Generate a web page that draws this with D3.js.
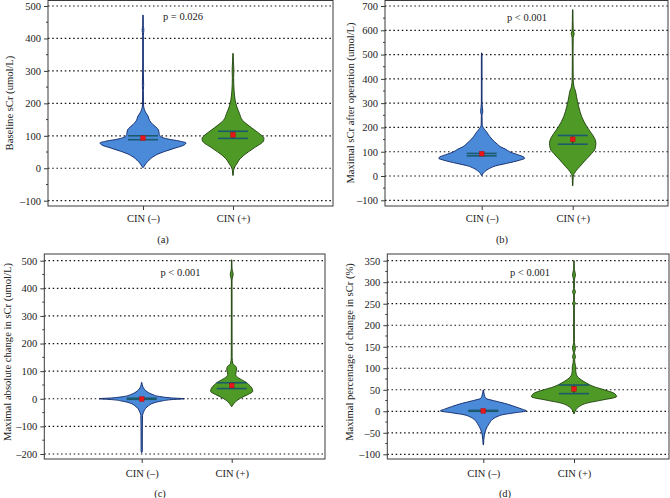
<!DOCTYPE html>
<html>
<head>
<meta charset="utf-8">
<script src="https://cdn.jsdelivr.net/npm/d3@7"></script>
<style>
  html, body { margin: 0; padding: 0; background: #fff; }
  svg { display: block; }
  text { font-family: "Liberation Serif", "DejaVu Serif", serif; fill: #222; }
</style>
</head>
<body>
<svg id="chart" width="670" height="498"></svg>
<script>
// ---------------- DATA ----------------
const categories = ["CIN (–)", "CIN (+)"];
const panelIds = ["(a)", "(b)", "(c)", "(d)"];
const yTitles = [
  "Baseline sCr (umol/L)",
  "Maximal sCr after operation (umol/L)",
  "Maximal absolute change in sCr (umol/L)",
  "Maximal percentage of change in sCr (%)"
];
const pLabels = ["p = 0.026", "p < 0.001", "p < 0.001", "p < 0.001"];

const yTicksA = [-100, 0, 100, 200, 300, 400, 500];
const yTicksB = [-100, 0, 100, 200, 300, 400, 500, 600, 700];
const yTicksC = [-200, -100, 0, 100, 200, 300, 400, 500];
const yTicksD = [-100, -50, 0, 50, 100, 150, 200, 250, 300, 350];

// violin profiles: [value, relative density (max = 100)]
const violinA_neg = [[472,0.3],[440,0.8],[426,2],[410,0.8],[300,0.8],[255,1.5],[240,0.8],[195,1.2],[182,3],[170,7],[160,12],[148,15],[135,23],[127,30],[118,36],[112,37],[104,38],[97,42],[90,58],[84,84],[78,100],[70,93],[62,74],[55,58],[45,37],[35,23],[25,14],[15,7],[5,2],[2,0]];
const violinA_pos = [[354,0.3],[330,1],[300,2],[280,1.5],[241,2.5],[210,5],[189,9],[169,15],[148,22],[133,35],[117,51],[105,63],[97,70],[92,72],[84,71],[76,65],[66,53],[56,42],[45,30],[35,21],[25,14],[14,9],[4,4],[-8,1.2],[-22,0]];
const violinB_neg = [[507,0.3],[480,0.8],[300,0.8],[264,2.5],[250,0.8],[210,1.2],[196,5],[180,12],[162,19],[141,30],[130,37],[120,44],[110,56],[100,65],[90,80],[79,97],[73,100],[65,88],[52,58],[42,33],[32,19],[18,7],[2,0]];
const violinB_pos = [[685,0.3],[640,0.8],[600,1.2],[586,3.5],[570,1.2],[500,0.8],[400,1.2],[367,3],[353,6],[326,9],[285,14],[244,21],[203,33],[175,44],[155,51],[134,54],[120,53],[107,51],[93,44],[79,37],[66,30],[52,23],[38,16],[25,9.3],[11,4],[0,1.2],[-20,0.8],[-40,0]];
const violinC_neg = [[59,0.3],[45,2.5],[35,6],[25,13],[15,26],[8,42],[3,70],[0,99],[-3,70],[-8,47],[-15,28],[-25,16],[-35,9],[-50,4],[-60,2],[-100,1.6],[-190,1.4],[-195,0]];
const violinC_pos = [[503,0.3],[470,0.8],[451,3.5],[430,0.8],[300,0.8],[150,1],[126,3],[118,9.3],[108,11.5],[99,10.5],[88,9.3],[81,11.5],[69,23],[60,33],[51,40],[39,47],[27,49],[15,37],[2.5,21],[-10,9.3],[-22,3],[-28,0]];
const violinD_neg = [[49.5,0.3],[40,2],[30,6],[25,23],[18.6,49],[10.7,74],[5,90],[1,100],[-4,70],[-8,45],[-12.5,32],[-20,20],[-28,14],[-36,9],[-43,6],[-55,2.5],[-78,0]];
const violinD_pos = [[350,0.3],[330,0.8],[317,3.5],[305,0.8],[285,0.8],[278,3.5],[270,0.8],[256,0.8],[251,3.5],[245,0.8],[160,0.8],[146,3.5],[136,1],[127,3.5],[120,1.5],[110,2.5],[104,4],[95,4],[88,5],[82,7],[73,17],[65,30],[57,47],[50,70],[42,93],[34,99],[26,65],[19,30],[11,12],[3,4],[-6,0]];

// box statistics [q1, q3, mean] per group
const boxA = [[88, 100, 93], [92, 114, 103]];
const boxB = [[83, 93, 92], [131, 167, 151]];
const boxC = [[-2, 2, -1], [37, 58, 48]];
const boxD = [[0, 2, 1], [41, 61, 52]];

// ---------------- LAYOUT ----------------
const panels = [
  { ticks: yTicksA, minorStep: 50, violins: [violinA_neg, violinA_pos], box: boxA,
    left: 48, right: 333, top: 0.5, bottom: 206, yr: [200.7, 6], cx: [143, 233],
    titleX: 9, titleY: 103, pX: 183, pY: 20, xlabY: 222, idX: 163, idY: 243 },
  { ticks: yTicksB, minorStep: 50, violins: [violinB_neg, violinB_pos], box: boxB,
    left: 385, right: 668, top: 0.5, bottom: 206, yr: [200.3, 6], cx: [481.7, 572.7],
    titleX: 350, titleY: 103, pX: 527, pY: 21, xlabY: 222, idX: 502, idY: 243 },
  { ticks: yTicksC, minorStep: 50, violins: [violinC_neg, violinC_pos], box: boxC,
    left: 44.3, right: 325, top: 254, bottom: 459, yr: [454, 260.7], cx: [141.7, 231.7],
    titleX: 7, titleY: 352, pX: 180.5, pY: 276, xlabY: 477, idX: 160, idY: 497 },
  { ticks: yTicksD, minorStep: 25, violins: [violinD_neg, violinD_pos], box: boxD,
    left: 387.3, right: 669, top: 254, bottom: 459, yr: [454.3, 260.7], cx: [483.3, 574],
    titleX: 349, titleY: 352, pX: 530, pY: 276, xlabY: 477, idX: 505, idY: 497 }
];

const fills = ["#4a8ad8", "#4f9a27"];
const strokes = ["#0c2466", "#1d3f0b"];
const boxColor = "#1b5a6c";
const axisColor = "#3a3a3a";

const svg = d3.select("#chart");

panels.forEach((p, i) => {
  const g = svg.append("g");
  const ticks = p.ticks;
  const y = d3.scaleLinear().domain([ticks[0], ticks[ticks.length - 1]]).range(p.yr);
  const x = d3.scaleLinear().domain([0, 1]).range(p.cx);
  const w = d3.scaleLinear().domain([0, 100]).range([0, 43]);

  // grid
  g.append("g").selectAll("line").data(ticks).join("line")
    .attr("x1", p.left).attr("x2", p.right)
    .attr("y1", d => y(d)).attr("y2", d => y(d))
    .attr("stroke", "#111").attr("stroke-width", 1.2)
    .attr("stroke-dasharray", "1.5,2.7");

  // violins
  p.violins.forEach((prof, k) => {
    const data = prof.slice().sort((a, b) => b[0] - a[0]);
    const area = d3.area()
      .y(d => y(d[0]))
      .x0(d => x(k) - Math.max(w(d[1]), 0.2))
      .x1(d => x(k) + Math.max(w(d[1]), 0.2))
      .curve(d3.curveMonotoneY);
    g.append("path").datum(data).attr("d", area)
      .attr("fill", fills[k]).attr("stroke", strokes[k])
      .attr("stroke-width", 0.9).attr("stroke-linejoin", "round");
  });

  // boxes
  p.box.forEach((b, k) => {
    const cx = x(k), hw = 15;
    const bg = g.append("g");
    bg.append("line").attr("x1", cx).attr("x2", cx)
      .attr("y1", y(b[0])).attr("y2", y(b[1]))
      .attr("stroke", "#10303a").attr("stroke-width", 1);
    [b[0], b[1]].forEach(v => {
      bg.append("line").attr("x1", cx - hw).attr("x2", cx + hw)
        .attr("y1", y(v)).attr("y2", y(v))
        .attr("stroke", boxColor).attr("stroke-width", 1.6);
    });
    bg.append("rect").attr("x", cx - 2.4).attr("y", y(b[2]) - 2.4)
      .attr("width", 4.8).attr("height", 4.8)
      .attr("fill", "#e8161b").attr("stroke", "#a01010").attr("stroke-width", 0.4);
  });

  // frame
  g.append("rect").attr("x", p.left).attr("y", p.top)
    .attr("width", p.right - p.left).attr("height", p.bottom - p.top)
    .attr("fill", "none").attr("stroke", axisColor).attr("stroke-width", 1);

  // y axis
  const yAxis = d3.axisLeft(y).tickValues(ticks).tickSize(4).tickPadding(3)
    .tickFormat(d => d < 0 ? "–" + Math.abs(d) : String(d));
  const ya = g.append("g").attr("transform", `translate(${p.left},0)`).call(yAxis);
  ya.select(".domain").remove();
  ya.selectAll("line").attr("stroke", axisColor);
  ya.selectAll("text").style("font-size", "10.5px").attr("fill", "#222")
    .style("font-family", '"Liberation Serif", serif');
  // minor ticks
  const minor = d3.range(ticks[0], ticks[ticks.length - 1] + 0.001, p.minorStep)
    .filter(v => !ticks.includes(v));
  g.append("g").selectAll("line").data(minor).join("line")
    .attr("x1", p.left - 2).attr("x2", p.left)
    .attr("y1", d => y(d)).attr("y2", d => y(d))
    .attr("stroke", axisColor);

  // x axis (category ticks)
  const xAxis = d3.axisBottom(x).tickValues([0, 1]).tickSize(4)
    .tickFormat(d => categories[d]);
  const xa = g.append("g").attr("transform", `translate(0,${p.bottom})`).call(xAxis);
  xa.select(".domain").remove();
  xa.selectAll("line").attr("stroke", axisColor);
  xa.selectAll("text").attr("y", p.xlabY - p.bottom).attr("dy", 0)
    .style("font-size", "10.5px").attr("fill", "#222")
    .style("font-family", '"Liberation Serif", serif');

  // y title
  g.append("text")
    .attr("transform", `translate(${p.titleX},${p.titleY}) rotate(-90)`)
    .attr("text-anchor", "middle").attr("dy", "0.35em")
    .style("font-size", "10.6px").text(yTitles[i]);

  // p label
  g.append("text").attr("x", p.pX).attr("y", p.pY)
    .attr("text-anchor", "middle").style("font-size", "10.5px")
    .text(pLabels[i]);

  // panel id
  g.append("text").attr("x", p.idX).attr("y", p.idY)
    .attr("text-anchor", "middle").style("font-size", "10.5px")
    .text(panelIds[i]);
});
</script>
</body>
</html>
